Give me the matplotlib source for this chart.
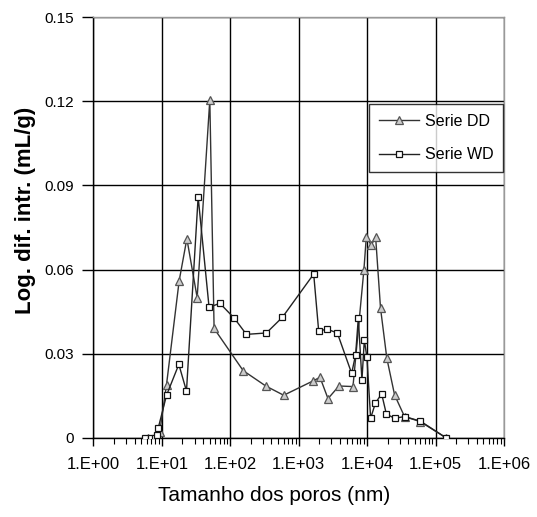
import matplotlib
matplotlib.use("Agg")
import matplotlib.pyplot as plt
from matplotlib.ticker import LogLocator, FixedLocator, FuncFormatter

plt.rcParams['font.family'] = ['Liberation Sans', 'DejaVu Sans']

# Serie DD (triangles)
dd_x = [6.2, 7.9, 9.3, 11.7, 17.9, 23.2, 32.8, 50.2, 58, 154, 330, 604,
        1618, 2047, 2680, 3875, 6210, 8980, 9730, 11500, 13300, 15700,
        19400, 25200, 35200, 59800, 143000]
dd_y = [0.0, 0.0, 0.002, 0.019, 0.056, 0.071, 0.050, 0.1205, 0.039, 0.024,
        0.0185, 0.0152, 0.0203, 0.0216, 0.014, 0.0185, 0.0183, 0.060,
        0.0717, 0.0687, 0.0717, 0.0462, 0.0284, 0.0153, 0.0076, 0.0058, 0.0]

# Serie WD (squares)
wd_x = [5.65, 6.84, 7.9, 8.5, 8.85, 11.7, 17.7, 22.9, 33.9, 49, 70.3, 115,
        172, 337, 578, 1656, 1960, 2565, 3670, 5940, 6790, 7430, 8400,
        9100, 9930, 11250, 13200, 16300, 19100, 25200, 35200, 59800, 143000]
wd_y = [0.0, 0.0, 0.0, 0.001, 0.0035, 0.0152, 0.0262, 0.0167, 0.0859,
        0.0465, 0.048, 0.0426, 0.0369, 0.0374, 0.043, 0.0584, 0.038, 0.0388,
        0.0374, 0.023, 0.0297, 0.0427, 0.0206, 0.0349, 0.0287, 0.007,
        0.0124, 0.0157, 0.0085, 0.007, 0.0076, 0.006, 0.0]

x_ticks = [1e0, 1e1, 1e2, 1e3, 1e4, 1e5, 1e6]
x_labels = ['1.E+00', '1.E+01', '1.E+02', '1.E+03', '1.E+04', '1.E+05', '1.E+06']
y_ticks = [0, 0.03, 0.06, 0.09, 0.12, 0.15]
y_labels = ['0', '0.03', '0.06', '0.09', '0.12', '0.15']

fig = plt.figure(figsize=(5.37, 5.17), dpi=100, facecolor='white')
ax = fig.add_axes([0.174, 0.153, 0.7645, 0.814])

ax.plot(dd_x, dd_y, color='#333333', lw=1.0, marker='^', ms=5.5,
        mfc='#cccccc', mec='#555555', mew=0.9, label='Serie DD', zorder=3)
ax.plot(wd_x, wd_y, color='#222222', lw=1.0, marker='s', ms=5,
        mfc='white', mec='#111111', mew=0.9, label='Serie WD', zorder=4)

ax.set_xscale('log')
ax.set_xlim(1, 1e6)
ax.set_ylim(0, 0.15)

ax.xaxis.set_major_locator(FixedLocator(x_ticks))
ax.xaxis.set_major_formatter(FuncFormatter(lambda v, p: x_labels[x_ticks.index(v)] if v in x_ticks else ''))
ax.xaxis.set_minor_locator(LogLocator(base=10, subs=range(2, 10), numticks=20))
ax.xaxis.set_minor_formatter(FuncFormatter(lambda v, p: ''))
ax.yaxis.set_major_locator(FixedLocator(y_ticks))
ax.set_yticklabels(y_labels)

ax.grid(True, which='major', color='black', lw=1.0)
ax.tick_params(axis='y', which='major', direction='out', length=8, width=1,
               labelsize=11, pad=6)
ax.tick_params(axis='x', which='major', direction='out', length=6, width=1,
               labelsize=12, pad=8)
ax.tick_params(axis='x', which='minor', direction='out', length=4, width=0.8)

for s in ['left', 'bottom']:
    ax.spines[s].set_color('black')
    ax.spines[s].set_linewidth(1.0)
for s in ['top', 'right']:
    ax.spines[s].set_color('#999999')
    ax.spines[s].set_linewidth(1.0)

ax.set_ylabel('Log. dif. intr. (mL/g)', fontsize=16, fontweight='bold')
ax.yaxis.set_label_coords(-0.14, 0.54)
ax.set_xlabel('Tamanho dos poros (nm)', fontsize=15)
ax.xaxis.set_label_coords(0.44, -0.115)

leg = ax.legend(loc='upper right', bbox_to_anchor=(0.998, 0.793), frameon=True,
                fancybox=False, edgecolor='black', fontsize=11.5,
                handlelength=2.5, borderpad=0.6, labelspacing=1.15,
                handletextpad=0.4, borderaxespad=0)
leg.get_frame().set_linewidth(1.0)

fig.savefig('out.png', dpi=100, facecolor='white')
